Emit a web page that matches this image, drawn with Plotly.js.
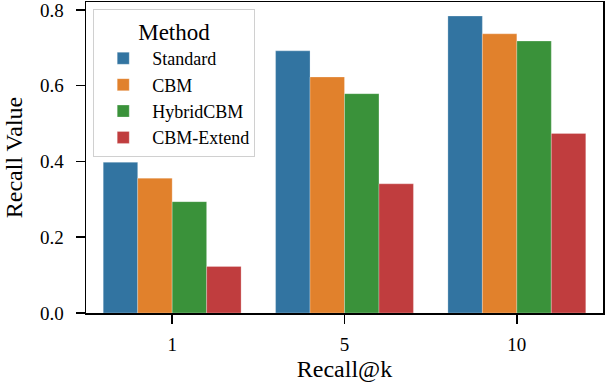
<!DOCTYPE html>
<html>
<head>
<meta charset="utf-8">
<script src="https://cdn.plot.ly/plotly-3.0.1.min.js"></script>
<style>
  html, body { margin: 0; padding: 0; background: #fff; }
  #chart { width: 606px; height: 382px; }
</style>
</head>
<body>
<div id="chart"></div>
<script>
// Recall@k categories and per-method recall values
var kLabels = ["1", "5", "10"];
var methods = ["Standard", "CBM", "HybridCBM", "CBM-Extend"];
var standardVals = [0.398, 0.692, 0.784];
var cbmVals = [0.356, 0.623, 0.737];
var hybridVals = [0.294, 0.579, 0.718];
var extendVals = [0.123, 0.341, 0.474];
var colors = ["#3274a1", "#e1812c", "#3a923a", "#c03d3e"];

var seriesVals = [standardVals, cbmVals, hybridVals, extendVals];
var serif = "Liberation Serif, Times New Roman, serif";

var traces = [];
for (var i = 0; i < methods.length; i++) {
    traces.push({
        type: "bar",
        name: methods[i],
        x: kLabels,
        y: seriesVals[i],
        marker: {color: colors[i], line: {color: "rgba(255,255,255,0.5)", width: 0.5}}
    });
}

var layout = {
    width: 606,
    height: 382,
    margin: {l: 86, r: 3, t: 2, b: 69},
    paper_bgcolor: "#fff",
    plot_bgcolor: "#fff",
    font: {family: serif, color: "#000"},
    barmode: "group",
    bargap: 0.2,
    bargroupgap: 0,
    xaxis: {
        type: "category",
        range: [-0.5, 2.5],
        showline: true, mirror: true, linecolor: "#000", linewidth: 1.5,
        ticks: "outside", ticklen: 9, tickwidth: 1.5, tickcolor: "#000",
        ticklabelstandoff: 5,
        tickfont: {size: 19},
        showgrid: false, zeroline: false,
        title: {text: "Recall@k", font: {size: 24}, standoff: 10}
    },
    yaxis: {
        range: [0, 0.821],
        tickvals: [0, 0.2, 0.4, 0.6, 0.8],
        tickformat: ".1f",
        showline: true, mirror: true, linecolor: "#000", linewidth: 1.5,
        ticks: "outside", ticklen: 9, tickwidth: 1.5, tickcolor: "#000",
        ticklabelstandoff: 8,
        ticklabeloverflow: "allow",
        tickfont: {size: 19},
        showgrid: false, zeroline: false,
        title: {text: "Recall Value", font: {size: 24}, standoff: 10}
    },
    showlegend: true,
    legend: {
        x: 0.014, y: 0.977, xanchor: "left", yanchor: "top",
        bgcolor: "rgba(255,255,255,0.8)",
        bordercolor: "#d0d0d0", borderwidth: 1,
        font: {size: 18},
        itemwidth: 48,
        title: {text: "Method", side: "top center", font: {size: 23}},
        traceorder: "normal"
    }
};

var config = {staticPlot: true, displayModeBar: false};
Plotly.newPlot("chart", traces, layout, config);
</script>
</body>
</html>
